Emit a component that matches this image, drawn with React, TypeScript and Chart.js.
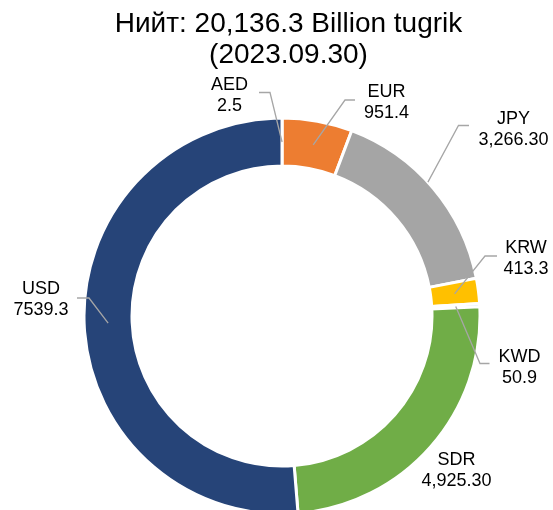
import React, { useEffect, useRef } from "react";
import { Chart, registerables } from "chart.js";

Chart.register(...registerables);

const titleLines = ["Нийт: 20,136.3 Billion tugrik", "(2023.09.30)"];
const categories = ["AED", "EUR", "JPY", "KRW", "KWD", "SDR", "USD"];
// value labels exactly as printed on the chart
const valueLabels = ["2.5", "951.4", "3,266.30", "413.3", "50.9", "4,925.30", "7539.3"];
// slice sizes as drawn in the ring (angles; total 20,136.3)
const sliceValues = [2.5, 1150, 3266.3, 413.3, 50.9, 4925.3, 10328];
const colors = ["#4472C4", "#ED7D31", "#A5A5A5", "#FFC000", "#5B9BD5", "#70AD47", "#264478"];

// label placement (text centre x, first baseline y) and leader line start/elbow
const labelLayout = [
  { x: 229.5, y: 90, leader: [259, 92.5, 270], along: 0.5, depth: 0.5 },
  { x: 386.5, y: 97, leader: [355, 100, 345], along: 0.5, depth: 0.5 },
  { x: 513.5, y: 123.5, leader: [469, 125.5, 458.5], along: 0.46, depth: 1 },
  { x: 526, y: 253, leader: [497, 256, 485], along: 0.5, depth: 0.5 },
  { x: 519.5, y: 362, leader: [489.5, 363.5, 480], along: 0.5, depth: 0.5 },
  { x: 456.5, y: 465, leader: null, along: 0.5, depth: 0.5 },
  { x: 41, y: 293.5, leader: [77, 298, 89], along: 0.5, depth: 0.5 },
];

const FONT = '"Liberation Sans", Arial, sans-serif';

const annotations = {
  id: "annotations",
  afterDraw(chart: any) {
    const ctx = chart.ctx;
    ctx.save();
    ctx.fillStyle = "#000";
    ctx.textAlign = "center";
    ctx.textBaseline = "alphabetic";
    ctx.font = "28px " + FONT;
    ctx.fillText(titleLines[0], 288.5, 32);
    ctx.fillText(titleLines[1], 288.5, 63);

    const meta = chart.getDatasetMeta(0);
    ctx.strokeStyle = "#A6A6A6";
    ctx.lineWidth = 1.3;
    meta.data.forEach((arc: any, i: number) => {
      const L = labelLayout[i];
      const p = arc.getProps(["x", "y", "startAngle", "endAngle", "innerRadius", "outerRadius"], true);
      if (L.leader) {
        const a = p.startAngle + (p.endAngle - p.startAngle) * L.along;
        const r = p.innerRadius + (p.outerRadius - p.innerRadius) * L.depth;
        const px = p.x + Math.cos(a) * r;
        const py = p.y + Math.sin(a) * r;
        ctx.beginPath();
        ctx.moveTo(L.leader[0], L.leader[1]);
        ctx.lineTo(L.leader[2], L.leader[1]);
        ctx.lineTo(px, py);
        ctx.stroke();
      }
      ctx.font = "18px " + FONT;
      ctx.fillText(categories[i], L.x, L.y);
      ctx.fillText(valueLabels[i], L.x, L.y + 21);
    });
    ctx.restore();
  },
};

export default function App() {
  const ref = useRef<HTMLCanvasElement>(null);
  useEffect(() => {
    const chart = new Chart(ref.current as HTMLCanvasElement, {
      type: "doughnut",
      data: {
        labels: categories,
        datasets: [
          {
            data: sliceValues,
            backgroundColor: colors,
            borderColor: "#FFFFFF",
            borderWidth: 3,
            clip: false,
          } as any,
        ],
      },
      options: {
        responsive: false,
        animation: false,
        devicePixelRatio: 1,
        radius: 198,
        cutout: "75.76%",
        layout: { padding: { left: 11, right: 0, top: 122, bottom: 0 } },
        events: [],
        plugins: {
          legend: { display: false },
          title: { display: false },
          tooltip: { enabled: false },
        },
      } as any,
      plugins: [annotations],
    });
    return () => chart.destroy();
  }, []);
  return (
    <div style={{ position: "absolute", left: 0, top: 0, width: 553, height: 510, background: "#fff" }}>
      <canvas ref={ref} width={553} height={510} style={{ display: "block" }} />
    </div>
  );
}
